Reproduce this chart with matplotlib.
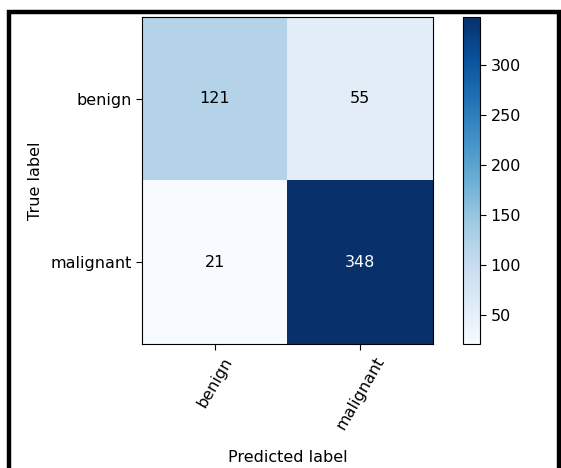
import matplotlib
matplotlib.use('Agg')
import matplotlib.pyplot as plt
import numpy as np

classes = ['benign', 'malignant']
counts = np.array([[121, 55],
                   [21, 348]])
cbar_ticks = [50, 100, 150, 200, 250, 300]

W, H = 561, 468
fig = plt.figure(figsize=(W / 100, H / 100), dpi=100)

def box(x0, y0, x1, y1):
    # pixel box (top-left origin) -> figure fraction rect
    return [x0 / W, 1 - y1 / H, (x1 - x0) / W, (y1 - y0) / H]

fs = 11.5

ax = fig.add_axes(box(142, 17, 433, 344))
im = ax.imshow(counts, interpolation='nearest', cmap=plt.cm.Blues, aspect='auto')

cax = fig.add_axes(box(463, 17, 480, 344))
cb = fig.colorbar(im, cax=cax)
cb.set_ticks(cbar_ticks)
cax.tick_params(labelsize=fs, length=4)

ticks = np.arange(len(classes))
ax.set_xticks(ticks)
ax.set_xticklabels(classes, rotation=60, ha='center', fontsize=fs)
ax.set_yticks(ticks)
ax.set_yticklabels(classes, fontsize=fs)
ax.tick_params(length=4)

thresh = counts.max() / 2.
for i in range(counts.shape[0]):
    for j in range(counts.shape[1]):
        ax.text(j, i, format(counts[i, j], 'd'), ha='center', va='center',
                fontsize=fs,
                color='white' if counts[i, j] > thresh else 'black')

ax.set_ylabel('True label', fontsize=fs, labelpad=5)
ax.set_xlabel('Predicted label', fontsize=fs, labelpad=13)

# black frame around the whole figure
frame = plt.Rectangle((9 / W, -0.05), (550 / W), 1 - 12 / H + 0.05,
                      transform=fig.transFigure, fill=False,
                      edgecolor='black', linewidth=3.2)
fig.patches.append(frame)

fig.savefig('out.png', dpi=100)
